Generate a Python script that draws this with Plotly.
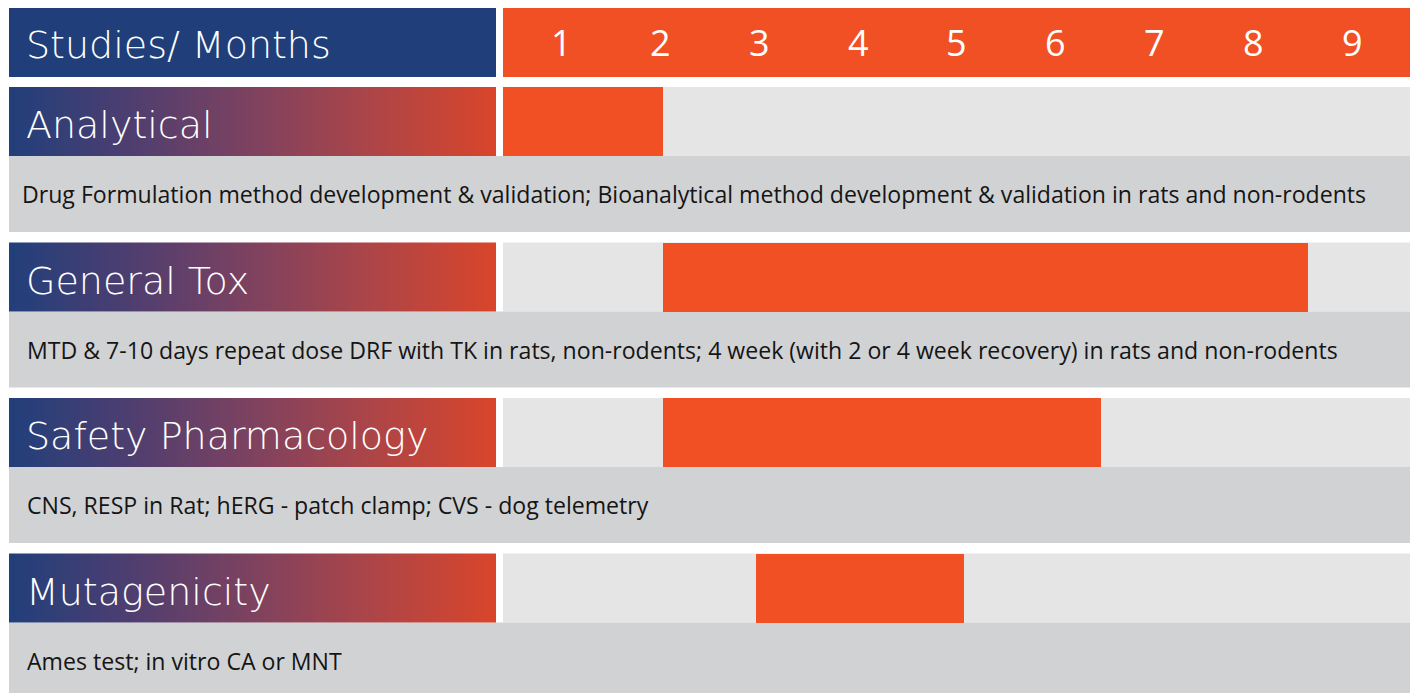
import numpy as np
import plotly.graph_objects as go

# ---------------- data ----------------
studies = ["Analytical", "General Tox", "Safety Pharmacology", "Mutagenicity"]
descriptions = [
    "Drug Formulation method development & validation; Bioanalytical method development & validation in rats and non-rodents",
    "MTD & 7-10 days repeat dose DRF with TK in rats, non-rodents; 4 week (with 2 or 4 week recovery) in rats and non-rodents",
    "CNS, RESP in Rat; hERG - patch clamp; CVS - dog telemetry",
    "Ames test; in vitro CA or MNT",
]
months = [1, 2, 3, 4, 5, 6, 7, 8, 9]
start_month = [0.41, 2.03, 2.03, 2.97]
end_month = [2.03, 8.55, 6.45, 5.07]
header_label = "Studies/ Months"

# ---------------- style ----------------
W, H = 1410, 693
NAVY = "#203F7A"
ORANGE = "#F05023"
LIGHT = "#E4E5E4"
DESC_BG = "#D1D2D4"
GRAD = [[0.0, "#213F7B"], [0.25, "#4E3E70"], [0.5, "#7E425F"], [0.75, "#AE4547"], [1.0, "#D9452A"]]

px_row = 155.5           # pixel pitch of one row
bar_h = 69 / px_row      # bar height in row units
desc_h = 76 / px_row     # description band height in row units
y_top = -87 / px_row
y_bot = (H - 87) / px_row
hdr0, hdr1 = -79 / px_row, -10 / px_row

x_lo, x_hi = 0.414, 9.576  # month range of timeline area

TITLE_FONT = dict(family="DejaVu Sans", size=38, color="white", weight=200)
NUM_FONT = dict(family="Open Sans", size=36, color="white", weight=400)
DESC_FONT = dict(family="Open Sans", size=23.1, color="#151515")

fig = go.Figure()
shapes = []
annotations = []

# header
shapes.append(dict(type="rect", xref="x domain", yref="y", x0=0, x1=1, y0=hdr0, y1=hdr1,
                   fillcolor=NAVY, line_width=0, layer="below"))
shapes.append(dict(type="rect", xref="x2 domain", yref="y", x0=0, x1=1, y0=hdr0, y1=hdr1,
                   fillcolor=ORANGE, line_width=0, layer="below"))
annotations.append(dict(text=header_label, xref="paper", yref="y", x=24 / W,
                        y=(hdr0 + hdr1) / 2 + 0.015,
                        xanchor="left", yanchor="middle", showarrow=False, font=TITLE_FONT))
for m in months:
    annotations.append(dict(text=str(m), xref="x2", yref="y", x=m, y=(hdr0 + hdr1) / 2,
                            xanchor="center", yanchor="middle", showarrow=False, font=NUM_FONT))

grad_x = np.linspace(0, 1, 301)
grad_z = (grad_x[:-1] + grad_x[1:]) / 2
desc_x = [20, 25, 25, 25]

for i, (name, desc) in enumerate(zip(studies, descriptions)):
    # gradient label block
    fig.add_trace(go.Heatmap(x=grad_x, y=[i, i + bar_h], z=[grad_z], colorscale=GRAD,
                             zmin=0, zmax=1, showscale=False, hoverinfo="skip",
                             xaxis="x", yaxis="y"))
    annotations.append(dict(text=name, xref="paper", yref="y", x=24 / W, y=i + bar_h / 2 + 0.025,
                            xanchor="left", yanchor="middle", showarrow=False, font=TITLE_FONT))
    # timeline background
    shapes.append(dict(type="rect", xref="x2 domain", yref="y", x0=0, x1=1, y0=i, y1=i + bar_h,
                       fillcolor=LIGHT, line_width=0, layer="below"))
    # description band
    shapes.append(dict(type="rect", xref="paper", yref="y", x0=9 / W, x1=1,
                       y0=i + bar_h, y1=i + bar_h + desc_h,
                       fillcolor=DESC_BG, line_width=0, layer="below"))
    annotations.append(dict(text=desc, xref="paper", yref="y", x=desc_x[i] / W,
                            y=i + bar_h + desc_h / 2, xanchor="left", yanchor="middle",
                            showarrow=False, font=DESC_FONT))

# study bars on the month timeline
fig.add_trace(go.Bar(
    orientation="h",
    y=[i + bar_h / 2 for i in range(len(studies))],
    base=start_month,
    x=[e - s for s, e in zip(start_month, end_month)],
    width=bar_h,
    marker=dict(color=ORANGE, line_width=0),
    xaxis="x2", yaxis="y", hoverinfo="skip", showlegend=False,
))

fig.update_layout(
    width=W, height=H, autosize=False,
    margin=dict(l=0, r=0, t=0, b=0),
    paper_bgcolor="white", plot_bgcolor="rgba(0,0,0,0)",
    showlegend=False,
    xaxis=dict(domain=[9 / W, 496 / W], range=[0, 1], visible=False, fixedrange=True),
    xaxis2=dict(domain=[503 / W, 1], range=[x_lo, x_hi], visible=False, fixedrange=True),
    yaxis=dict(domain=[0, 1], range=[y_bot, y_top], visible=False, fixedrange=True),
    shapes=shapes,
    annotations=annotations,
    bargap=0,
)

post = (
    "document.body.style.margin='0';document.body.style.padding='0';"
    "document.body.style.overflow='hidden';"
    "var gd=document.getElementById('{plot_id}');"
    "gd.style.width='%dpx';gd.style.height='%dpx';"
    "Plotly.relayout(gd,{width:%d,height:%d,autosize:false});" % (W, H, W, H)
)

fig.write_html("out.html", config={"responsive": False, "displayModeBar": False},
               post_script=post, default_width="%dpx" % W, default_height="%dpx" % H)
